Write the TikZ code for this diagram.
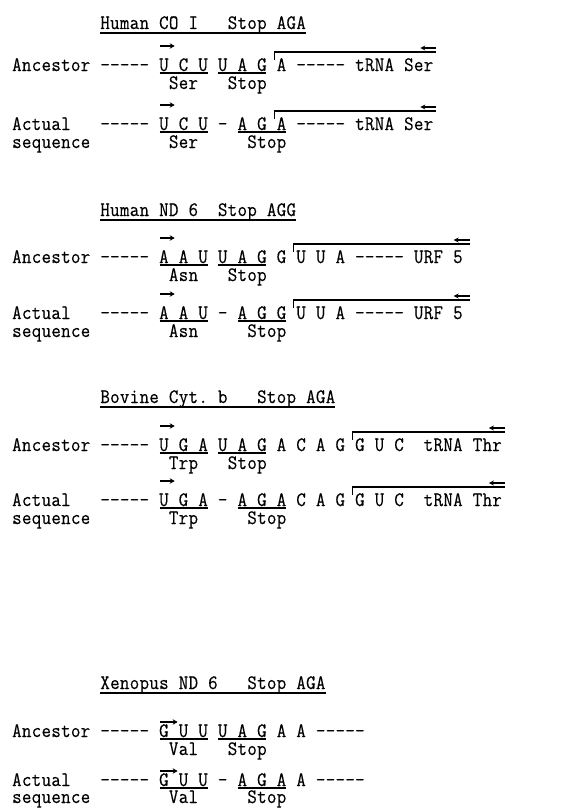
\documentclass[tikz,border=0pt]{standalone}
\usepackage{graphicx}
\usepackage{fontspec}
\newfontfamily\twfont{lmmono12-regular.otf}[FakeBold=0.35]
\usetikzlibrary{arrows.meta}
\newlength\cw
\setlength\cw{9.8pt}
\makeatletter
\def\monostr#1{\mono@a#1\mono@end}
\def\mono@end{\mono@end}
\def\mono@a#1{\ifx#1\mono@end\else\mono@b{#1}\expandafter\mono@a\fi}
\def\mono@b#1{\ifx#1~\hspace*{\cw}\else\makebox[\cw][c]{\scalebox{0.9}[1]{#1}}\fi}
\makeatother
\newcommand\cx[1]{12+(#1)*9.8}
\tikzset{
  txt/.style={anchor=base west, inner sep=0pt, outer sep=0pt,
    font=\fontsize{20.5}{23}\selectfont\twfont},
  uline/.style={line width=1.2pt},
  tline/.style={line width=1.6pt},
  oline/.style={line width=1.1pt},
  rarr/.style={line width=1.3pt, -{Stealth[length=5pt,width=5.5pt]}},
  larr/.style={line width=1.2pt, -{Stealth[length=5pt,width=5pt]}},
}
\newcommand\uln[3]{\draw[uline] ({\cx{#2}+0.5},{#1+2}) -- ({\cx{#3}-0.5},{#1+2});}
\newcommand\rarrow[3]{\draw[rarr] ({\cx{15}+1},{#1-#2}) -- ({\cx{#3}+1},{#1-#2});}
\newcommand\bracket[3]{%
  \draw[oline] ({\cx{#2}},{#1-11}) -- ({\cx{#2}},{#1-19}) -- ({\cx{#3}},{#1-19});
  \draw[larr] ({\cx{#3}},{#1-23}) -- ({\cx{#3}-16},{#1-23});}
\begin{document}
\begin{tikzpicture}[x=1pt,y=-1pt]
\useasboundingbox (0,0) rectangle (582,808);
% ---------- Block 1 ----------
\node[txt] (t1) at ({\cx{9}},29) {\monostr{Human~CO~I~~~Stop~AGA}};
\draw[tline] ([yshift=-4pt]t1.base west) -- ([yshift=-4pt]t1.base east);
\node[txt] (a1) at ({\cx{0}},71) {\monostr{Ancestor~-----~U~C~U~U~A~G~A~-----~tRNA~Ser}};
\uln{71}{15}{20}\uln{71}{21}{26}
\rarrow{71}{25}{16.5}
\bracket{71}{26.75}{43.3}
\node[txt] (a1s) at ({\cx{16}},89) {\monostr{Ser}};
\node[txt] (a1t) at ({\cx{22}},89) {\monostr{Stop}};
\node[txt] (b1) at ({\cx{0}},130) {\monostr{Actual~~~-----~U~C~U~-~A~G~A~-----~tRNA~Ser}};
\uln{130}{15}{20}\uln{130}{23}{28}
\rarrow{130}{25}{16.5}
\bracket{130}{26.75}{43.3}
\node[txt] (b1q) at ({\cx{0}},148) {\monostr{sequence}};
\node[txt] (b1s) at ({\cx{16}},148) {\monostr{Ser}};
\node[txt] (b1t) at ({\cx{24}},148) {\monostr{Stop}};
% ---------- Block 2 ----------
\node[txt] (t2) at ({\cx{9}},216) {\monostr{Human~ND~6~~Stop~AGG}};
\draw[tline] ([yshift=-4pt]t2.base west) -- ([yshift=-4pt]t2.base east);
\node[txt] (a2) at ({\cx{0}},263) {\monostr{Ancestor~-----~A~A~U~U~A~G~G~U~U~A~-----~URF~5}};
\uln{263}{15}{20}\uln{263}{21}{26}
\rarrow{263}{25}{16.5}
\bracket{263}{28.75}{46.7}
\node[txt] (a2s) at ({\cx{16}},281) {\monostr{Asn}};
\node[txt] (a2t) at ({\cx{22}},281) {\monostr{Stop}};
\node[txt] (b2) at ({\cx{0}},319) {\monostr{Actual~~~-----~A~A~U~-~A~G~G~U~U~A~-----~URF~5}};
\uln{319}{15}{20}\uln{319}{23}{28}
\rarrow{319}{25}{16.5}
\bracket{319}{28.75}{46.7}
\node[txt] (b2q) at ({\cx{0}},337) {\monostr{sequence}};
\node[txt] (b2s) at ({\cx{16}},337) {\monostr{Asn}};
\node[txt] (b2t) at ({\cx{24}},337) {\monostr{Stop}};
% ---------- Block 3 ----------
\node[txt] (t3) at ({\cx{9}},403) {\monostr{Bovine~Cyt.~b~~~Stop~AGA}};
\draw[tline] ([yshift=-4pt]t3.base west) -- ([yshift=-4pt]t3.base east);
\node[txt] (a3) at ({\cx{0}},451) {\monostr{Ancestor~-----~U~G~A~U~A~G~A~C~A~G~G~U~C~~tRNA~Thr}};
\uln{451}{15}{20}\uln{451}{21}{26}
\rarrow{451}{25}{16.5}
\bracket{451}{34.75}{50.3}
\node[txt] (a3s) at ({\cx{16}},469) {\monostr{Trp}};
\node[txt] (a3t) at ({\cx{22}},469) {\monostr{Stop}};
\node[txt] (b3) at ({\cx{0}},506) {\monostr{Actual~~~-----~U~G~A~-~A~G~A~C~A~G~G~U~C~~tRNA~Thr}};
\uln{506}{15}{20}\uln{506}{23}{28}
\rarrow{506}{25}{16.5}
\bracket{506}{34.75}{50.3}
\node[txt] (b3q) at ({\cx{0}},524) {\monostr{sequence}};
\node[txt] (b3s) at ({\cx{16}},524) {\monostr{Trp}};
\node[txt] (b3t) at ({\cx{24}},524) {\monostr{Stop}};
% ---------- Block 4 ----------
\node[txt] (t4) at ({\cx{9}},689) {\monostr{Xenopus~ND~6~~~Stop~AGA}};
\draw[tline] ([yshift=-4pt]t4.base west) -- ([yshift=-4pt]t4.base east);
\node[txt] (a4) at ({\cx{0}},737) {\monostr{Ancestor~-----~G~U~U~U~A~G~A~A~-----}};
\uln{737}{15}{20}\uln{737}{21}{26}
\rarrow{737}{15}{16.8}
\node[txt] (a4s) at ({\cx{16}},755) {\monostr{Val}};
\node[txt] (a4t) at ({\cx{22}},755) {\monostr{Stop}};
\node[txt] (b4) at ({\cx{0}},786) {\monostr{Actual~~~-----~G~U~U~-~A~G~A~A~-----}};
\uln{786}{15}{20}\uln{786}{23}{28}
\rarrow{786}{15}{16.8}
\node[txt] (b4q) at ({\cx{0}},803) {\monostr{sequence}};
\node[txt] (b4s) at ({\cx{16}},803) {\monostr{Val}};
\node[txt] (b4t) at ({\cx{24}},803) {\monostr{Stop}};
\end{tikzpicture}
\end{document}
